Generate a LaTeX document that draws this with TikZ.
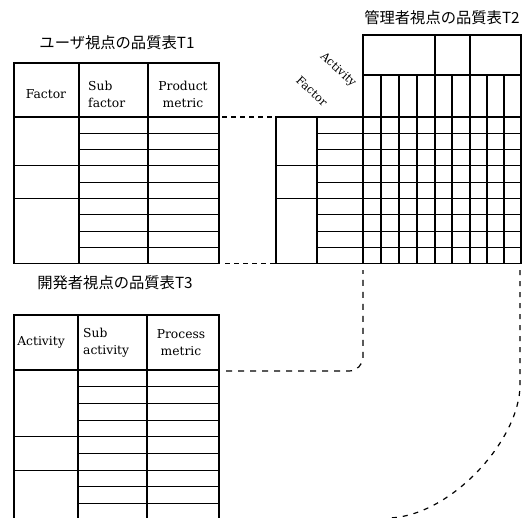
\documentclass[tikz,border=0pt]{standalone}
\usepackage{fontspec}
\setmainfont{DejaVu Serif}
\newfontfamily\jp{Noto Sans CJK JP}
\begin{document}
\begin{tikzpicture}[x=1pt,y=-1pt,
  tbl/.style={line width=1.1pt, line cap=rect},
  conn/.style={line width=1.2pt, dash pattern=on 5pt off 4pt},
  hdr/.style={font=\fontsize{12.3}{17}\selectfont, inner sep=0pt},
  rot/.style={font=\fontsize{11.5}{13}\selectfont, inner sep=0pt, rotate=-43},
  ttl/.style={font=\jp\fontsize{15.3}{17}\selectfont, inner sep=0pt}]
\useasboundingbox (0,0) rectangle (529,517);

% ---------- T1 ----------
\draw[tbl] (14,63) rectangle (219,263.7);
\draw[tbl] (14,117) -- (219,117);
\draw[tbl] (79,63) -- (79,263.7);
\draw[tbl] (148,63) -- (148,263.7);
\foreach \k in {1,...,8} \draw[tbl] (79,{117+16.3*\k}) -- (219,{117+16.3*\k});
\draw[tbl] (14,165.9) -- (79,165.9);
\draw[tbl] (14,198.5) -- (79,198.5);

% ---------- T2 ----------
\draw[tbl] (276,117) rectangle (521,263.7);
\draw[tbl] (363,35) rectangle (521,117);
\draw[tbl] (363,75) -- (521,75);
\draw[tbl] (317,117) -- (317,263.7);
\draw[tbl] (363,117) -- (363,263.7);
\foreach \x in {381,399,417,452,487,504} \draw[tbl] (\x,75) -- (\x,263.7);
\foreach \x in {435,470} \draw[tbl] (\x,35) -- (\x,263.7);
\foreach \k in {1,...,8} \draw[tbl] (317,{117+16.3*\k}) -- (521,{117+16.3*\k});
\draw[tbl] (276,165.9) -- (317,165.9);
\draw[tbl] (276,198.5) -- (317,198.5);

% ---------- T3 ----------
\draw[tbl] (14,517) -- (14,315) -- (219,315) -- (219,517);
\draw[tbl] (78,315) -- (78,517);
\draw[tbl] (147,315) -- (147,517);
\draw[tbl] (14,370) -- (219,370);
\foreach \k in {1,...,8} \draw[tbl] (78,{370+16.7*\k}) -- (219,{370+16.7*\k});
\draw[tbl] (14,436.8) -- (78,436.8);
\draw[tbl] (14,470.2) -- (78,470.2);

% ---------- connector end points ----------
\coordinate (t1a) at (222,117);
\coordinate (t2a) at (276,117);
\coordinate (t1b) at (225,263.7);
\coordinate (t2b) at (276,263.7);
\coordinate (t3a) at (226,371);
\coordinate (t2c) at (363,270);
\coordinate (t2d) at (520,270);
\coordinate (t3e) at (388,518);

% ---------- connectors ----------
\draw[conn] (t1a) -- (t2a);
\draw[conn] (t1b) -- (t2b);
\draw[conn, dash pattern=on 6pt off 6pt, rounded corners=14pt] (t3a) -- (363,371) -- (t2c);
\draw[conn, dash pattern=on 5pt off 6pt] (t2d) -- (520,385) .. controls (520,440) and (450,517) .. (t3e);

% ---------- titles ----------
\node[ttl] (t1title) at (117,43) {ユーザ視点の品質表T1};
\node[ttl] (t2title) at (442,18) {管理者視点の品質表T2};
\node[ttl] (t3title) at (115,283) {開発者視点の品質表T3};

% ---------- headers ----------
\node[hdr] (f1) at (46,94) {Factor};
\node[hdr, align=left, anchor=west] (sf1) at (88,94.5) {Sub\\factor};
\node[hdr, align=center] (pm1) at (183,94.5) {Product\\metric};

\node[hdr] (a3) at (41,342) {Activity};
\node[hdr, align=left, anchor=west] (sa3) at (83,343) {Sub\\activity};
\node[hdr, align=center] (pm3) at (181,343) {Process\\metric};

\node[rot] (act) at (338,70) {Activity};
\node[rot] (fac) at (312,91) {Factor};
\end{tikzpicture}
\end{document}
